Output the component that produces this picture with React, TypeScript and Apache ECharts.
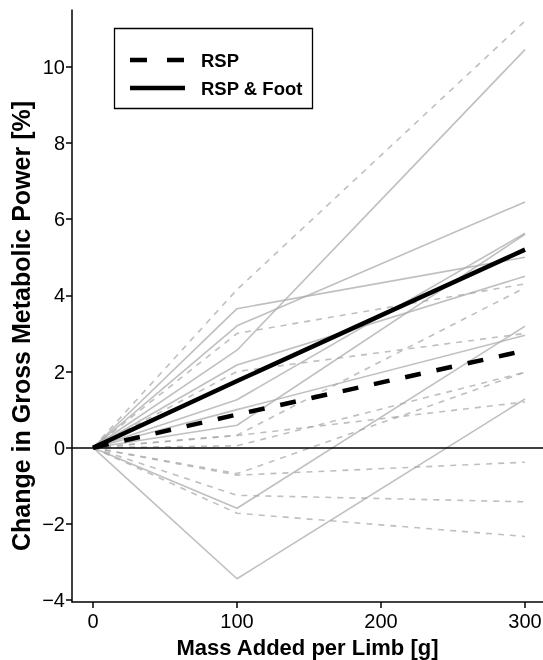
import React, { useEffect, useRef } from "react";
import * as echarts from "echarts";

const massAdded = [0, 100, 300];

const rspSubjects: number[][] = [
  [0, 4.15, 11.2],
  [0, 3.0, 4.3],
  [0, 2.0, 3.0],
  [0, 0.33, 4.2],
  [0, 0.32, 1.2],
  [0, 0.05, 1.98],
  [0, -0.68, 1.98],
  [0, -0.72, -0.38],
  [0, -1.25, -1.42],
  [0, -1.72, -2.33],
];

const rspFootSubjects: number[][] = [
  [0, 3.65, 5.0],
  [0, 3.2, 6.45],
  [0, 2.56, 10.45],
  [0, 2.17, 4.5],
  [0, 1.26, 5.63],
  [0, 1.0, 2.95],
  [0, 0.59, 5.6],
  [0, -1.59, 3.19],
  [0, -3.44, 1.28],
];

const rspMean = [0, 0.87, 2.55];
const rspFootMean = [0, 1.75, 5.2];

const xTicks = [0, 100, 200, 300];
const yTicks = [-4, -2, 0, 2, 4, 6, 8, 10];
const legendLabels = ["RSP", "RSP & Foot"];
const yTitle = "Change in Gross Metabolic Power [%]";
const xTitle = "Mass Added per Limb [g]";

const FONT = "'Liberation Sans', Arial, Helvetica, sans-serif";

export default function App() {
  const ref = useRef<HTMLDivElement>(null);
  useEffect(() => {
    const chart = echarts.init(ref.current!, null, { renderer: "svg" });
    const toPts = (vals: number[]) => massAdded.map((x, i) => [x, vals[i]]);
    const gray = "rgba(170,170,170,0.75)";
    const series: any[] = [];
    rspSubjects.forEach((s, i) =>
      series.push({
        type: "line",
        name: "rsp" + i,
        data: toPts(s),
        symbol: "none",
        silent: true,
        lineStyle: { color: gray, width: 1.6, type: [6, 6] },
        z: 2,
      })
    );
    rspFootSubjects.forEach((s, i) =>
      series.push({
        type: "line",
        name: "foot" + i,
        data: toPts(s),
        symbol: "none",
        silent: true,
        lineStyle: { color: gray, width: 1.6, type: "solid" },
        z: 2,
      })
    );
    series.push({
      type: "line",
      name: legendLabels[0],
      data: toPts(rspMean),
      symbol: "none",
      silent: true,
      lineStyle: { color: "#000", width: 4.5, type: [16, 16] },
      z: 5,
      markLine: {
        silent: true,
        symbol: "none",
        label: { show: false },
        lineStyle: { color: "#000", width: 1.5, type: "solid" },
        data: [{ yAxis: 0 }],
      },
    });
    series.push({
      type: "line",
      name: legendLabels[1],
      data: toPts(rspFootMean),
      symbol: "none",
      silent: true,
      lineStyle: { color: "#000", width: 4.5, type: "solid" },
      z: 5,
    });

    chart.setOption({
      animation: false,
      grid: { left: 72, right: 0, top: 10, bottom: 58, containLabel: false, outerBoundsMode: "none" },
      xAxis: {
        type: "value",
        min: -14.6,
        max: 312.5,
        splitLine: { show: false },
        axisLine: { show: true, onZero: false, lineStyle: { color: "#000", width: 1.5 } },
        axisTick: { show: true, customValues: xTicks, length: 6, lineStyle: { color: "#000", width: 1.5 } },
        axisLabel: { customValues: xTicks, color: "#000", fontSize: 20, fontFamily: FONT, margin: 9, hideOverlap: false },
        name: xTitle,
        nameLocation: "middle",
        nameGap: 34,
        nameTextStyle: { color: "#000", fontSize: 22, fontWeight: "bold", fontFamily: FONT },
      },
      yAxis: {
        type: "value",
        min: -4.05,
        max: 11.49,
        splitLine: { show: false },
        axisLine: { show: true, onZero: false, lineStyle: { color: "#000", width: 1.5 } },
        axisTick: { show: true, customValues: yTicks, length: 6, lineStyle: { color: "#000", width: 1.5 } },
        axisLabel: {
          customValues: yTicks,
          color: "#000",
          fontSize: 20,
          fontFamily: FONT,
          margin: 7,
          formatter: (v: number) => (v < 0 ? "\u2212" + Math.abs(v) : String(v)),
        },
      },
      graphic: [
        {
          type: "text",
          x: 21,
          y: 326,
          rotation: Math.PI / 2,
          style: {
            text: yTitle,
            fill: "#000",
            font: "bold 25px " + FONT,
            align: "center",
            verticalAlign: "middle",
          },
          z: 50,
        },
        {
          type: "rect",
          shape: { x: 114.5, y: 28.5, width: 198, height: 80 },
          style: { fill: "#fff", stroke: "#000", lineWidth: 1.3 },
          z: 100,
        },
        {
          type: "line",
          shape: { x1: 130, y1: 60, x2: 185, y2: 60 },
          style: { stroke: "#000", lineWidth: 4.5, lineDash: [17, 20] },
          z: 101,
        },
        {
          type: "line",
          shape: { x1: 130, y1: 88, x2: 185, y2: 88 },
          style: { stroke: "#000", lineWidth: 4.5 },
          z: 101,
        },
        {
          type: "text",
          x: 201,
          y: 60,
          style: { text: legendLabels[0], fill: "#000", font: "bold 18.5px " + FONT, verticalAlign: "middle" },
          z: 101,
        },
        {
          type: "text",
          x: 201,
          y: 88,
          style: { text: legendLabels[1], fill: "#000", font: "bold 18.5px " + FONT, verticalAlign: "middle" },
          z: 101,
        },
      ],
      series,
    });
    return () => chart.dispose();
  }, []);
  return <div ref={ref} style={{ position: "fixed", left: 0, top: 0, width: 543, height: 660 }} />;
}
